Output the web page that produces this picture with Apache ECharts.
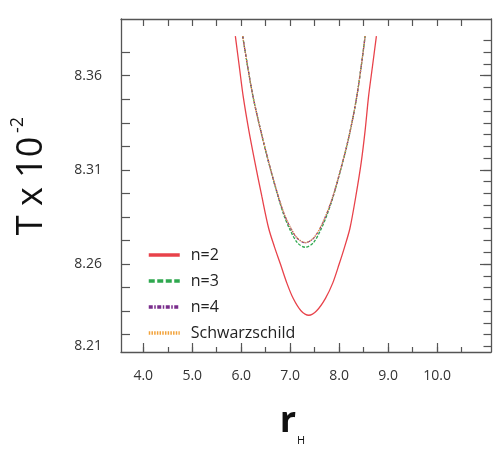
<!DOCTYPE html>
<html>
<head>
<meta charset="utf-8">
<script src="https://cdn.jsdelivr.net/npm/echarts@6/dist/echarts.min.js"></script>
<style>
html, body { margin: 0; padding: 0; background: #fff; }
#chart { width: 503px; height: 458px; }
</style>
</head>
<body>
<div id="chart"></div>
<script>
// 曲线数据 (r_H, T x 10^-2)
var rN2 = [5.88, 5.96, 6.04, 6.155, 6.28, 6.42, 6.56, 6.68, 6.80, 6.93, 7.06, 7.22, 7.38,
  7.54, 7.72, 7.87, 8.00, 8.11, 8.22, 8.34, 8.45, 8.53, 8.60, 8.68, 8.76];
var tN2 = [8.381, 8.365, 8.349, 8.331, 8.314, 8.296, 8.279, 8.269, 8.260, 8.250, 8.2418, 8.2352, 8.2328,
  8.2352, 8.2418, 8.250, 8.260, 8.269, 8.279, 8.296, 8.314, 8.331, 8.349, 8.365, 8.381];

var rN3 = [6.03, 6.13, 6.24, 6.36, 6.48, 6.61, 6.75, 6.87, 7.00, 7.15, 7.31,
  7.47, 7.62, 7.75, 7.88, 8.02, 8.15, 8.26, 8.36, 8.45, 8.53];
var tN3 = [8.381, 8.365, 8.349, 8.335, 8.322, 8.309, 8.296, 8.286, 8.278, 8.2712, 8.2689,
  8.2712, 8.278, 8.286, 8.296, 8.309, 8.322, 8.335, 8.349, 8.365, 8.381];

var rN4 = [6.03, 6.13, 6.24, 6.36, 6.48, 6.61, 6.75, 6.87, 7.00, 7.15, 7.31,
  7.47, 7.62, 7.75, 7.88, 8.02, 8.15, 8.26, 8.36, 8.45, 8.53];
var tN4 = [8.381, 8.365, 8.349, 8.335, 8.3222, 8.3093, 8.2965, 8.287, 8.2795, 8.2735, 8.2713,
  8.2735, 8.2795, 8.287, 8.2965, 8.3093, 8.3222, 8.335, 8.349, 8.365, 8.381];

var rSch = [6.03, 6.13, 6.24, 6.36, 6.48, 6.61, 6.75, 6.87, 7.00, 7.15, 7.31,
  7.47, 7.62, 7.75, 7.88, 8.02, 8.15, 8.26, 8.36, 8.45, 8.53];
var tSch = [8.381, 8.365, 8.349, 8.335, 8.3223, 8.3094, 8.2966, 8.2872, 8.2797, 8.2737, 8.2714,
  8.2737, 8.2797, 8.2872, 8.2966, 8.3094, 8.3223, 8.335, 8.349, 8.365, 8.381];

// 刻度
var xLabels = [4, 5, 6, 7, 8, 9, 10];
var xMinor = [4, 4.5, 5, 5.5, 6, 6.5, 7, 7.5, 8, 8.5, 9, 9.5, 10, 10.5];
var yLabelVals = [8.2163, 8.26, 8.31, 8.36];
var yLabelText = ['8.21', '8.26', '8.31', '8.36'];
var yTicksLeft = [8.2225, 8.235, 8.2475, 8.26, 8.2725, 8.285, 8.2975, 8.31, 8.3225, 8.335, 8.3475, 8.36, 8.3725];
var yTicksRight = [8.21625, 8.2225, 8.22875, 8.235, 8.24125, 8.2475, 8.25375, 8.26, 8.26625, 8.2725,
  8.27875, 8.285, 8.29125, 8.2975, 8.30375, 8.31, 8.31625, 8.3225, 8.32875, 8.335, 8.34125, 8.3475,
  8.35375, 8.36, 8.36625, 8.3725, 8.37875];
var yTicksLong = [8.26, 8.31, 8.36];

var colors = ['#e8424a', '#2fa84f', '#7a2d8c', '#f2a23a'];

function pairs(xs, ys) {
  return xs.map(function (x, i) { return [x, ys[i]]; });
}

var X_MIN = 3.545, X_MAX = 11.1;
var Y_MIN = 8.2133, Y_MAX = 8.3901;
var frame = { show: true, lineStyle: { color: '#555', width: 1.3 } };
var tickLine = { color: '#555', width: 1.2 };
var font = 'Open Sans';

var myChart = echarts.init(document.getElementById('chart'));
var option = {
  animation: false,
  grid: { left: 121, right: 12, top: 19, bottom: 106 },
  xAxis: [
    {
      type: 'value', position: 'bottom', min: X_MIN, max: X_MAX,
      axisLine: frame, splitLine: { show: false },
      axisTick: { show: true, inside: true, length: 5, customValues: xMinor, lineStyle: tickLine },
      axisLabel: {
        customValues: xLabels, margin: 17, color: '#333', fontFamily: font, fontSize: 14,
        formatter: function (v) { return v.toFixed(1); }
      }
    },
    {
      type: 'value', position: 'bottom', min: X_MIN, max: X_MAX,
      axisLine: { show: false }, splitLine: { show: false },
      axisTick: { show: true, inside: true, length: 9, customValues: xLabels, lineStyle: tickLine },
      axisLabel: { show: false }
    },
    {
      type: 'value', position: 'top', min: X_MIN, max: X_MAX,
      axisLine: frame, splitLine: { show: false },
      axisTick: { show: true, inside: true, length: 7, customValues: xMinor, lineStyle: tickLine },
      axisLabel: { show: false }
    }
  ],
  yAxis: [
    {
      type: 'value', position: 'left', min: Y_MIN, max: Y_MAX,
      axisLine: frame, splitLine: { show: false },
      axisTick: { show: true, inside: true, length: 9, customValues: yTicksLeft, lineStyle: tickLine },
      axisLabel: {
        customValues: yLabelVals, margin: 19, color: '#333', fontFamily: font, fontSize: 14,
        formatter: function (v) {
          var best = 0;
          yLabelVals.forEach(function (t, i) { if (Math.abs(t - v) < Math.abs(yLabelVals[best] - v)) best = i; });
          return yLabelText[best];
        }
      }
    },
    {
      type: 'value', position: 'right', min: Y_MIN, max: Y_MAX,
      axisLine: frame, splitLine: { show: false },
      axisTick: { show: true, inside: true, length: 7.5, customValues: yTicksRight, lineStyle: tickLine },
      axisLabel: { show: false }
    },
    {
      type: 'value', position: 'right', min: Y_MIN, max: Y_MAX,
      axisLine: { show: false }, splitLine: { show: false },
      axisTick: { show: true, inside: true, length: 11, customValues: yTicksLong, lineStyle: tickLine },
      axisLabel: { show: false }
    }
  ],
  legend: {
    orient: 'vertical', left: 142, top: 242,
    itemWidth: 31, itemHeight: 14, itemGap: 10,
    itemStyle: { opacity: 0 },
    textStyle: { fontFamily: font, fontSize: 16, color: '#222', padding: [0, 0, 0, 6] },
    data: [
      { name: 'n=2', lineStyle: { width: 3.5, type: 'solid' } },
      { name: 'n=3', lineStyle: { width: 3.5, type: [6, 2.5] } },
      { name: 'n=4', lineStyle: { width: 3.5, type: [4, 1.5, 1.5, 1.5] } },
      { name: 'Schwarzschild', lineStyle: { width: 3.5, type: [1.5, 1.2] } }
    ]
  },
  series: [
    { name: 'n=2', type: 'line', data: pairs(rN2, tN2), smooth: 0.3, symbol: 'none', color: colors[0],
      lineStyle: { width: 1.3, type: 'solid', color: colors[0] } },
    { name: 'n=3', type: 'line', data: pairs(rN3, tN3), smooth: 0.3, symbol: 'none', color: colors[1],
      lineStyle: { width: 1.3, type: [3, 1.5], color: colors[1] } },
    { name: 'n=4', type: 'line', data: pairs(rN4, tN4), smooth: 0.3, symbol: 'none', color: colors[2],
      lineStyle: { width: 1.3, type: [3, 1, 1, 1], color: colors[2] } },
    { name: 'Schwarzschild', type: 'line', data: pairs(rSch, tSch), smooth: 0.3, symbol: 'none', color: colors[3],
      lineStyle: { width: 1.3, type: [1, 1.2], color: colors[3] } }
  ],
  graphic: [
    { type: 'text', x: 32, y: 186, rotation: Math.PI / 2,
      style: { text: 'T x 10', fontFamily: font, fontSize: 36, fill: '#111', align: 'center', verticalAlign: 'middle' } },
    { type: 'text', x: 18, y: 125, rotation: Math.PI / 2,
      style: { text: '-2', fontFamily: font, fontSize: 18, fill: '#111', align: 'center', verticalAlign: 'middle' } },
    { type: 'text', x: 288, y: 422,
      style: { text: 'r', fontFamily: font, fontSize: 36, fontWeight: 'bold', fill: '#111', align: 'center', verticalAlign: 'middle' } },
    { type: 'text', x: 301, y: 441,
      style: { text: 'H', fontFamily: font, fontSize: 11, fill: '#111', align: 'center', verticalAlign: 'middle' } }
  ]
};
myChart.setOption(option);
</script>
</body>
</html>
